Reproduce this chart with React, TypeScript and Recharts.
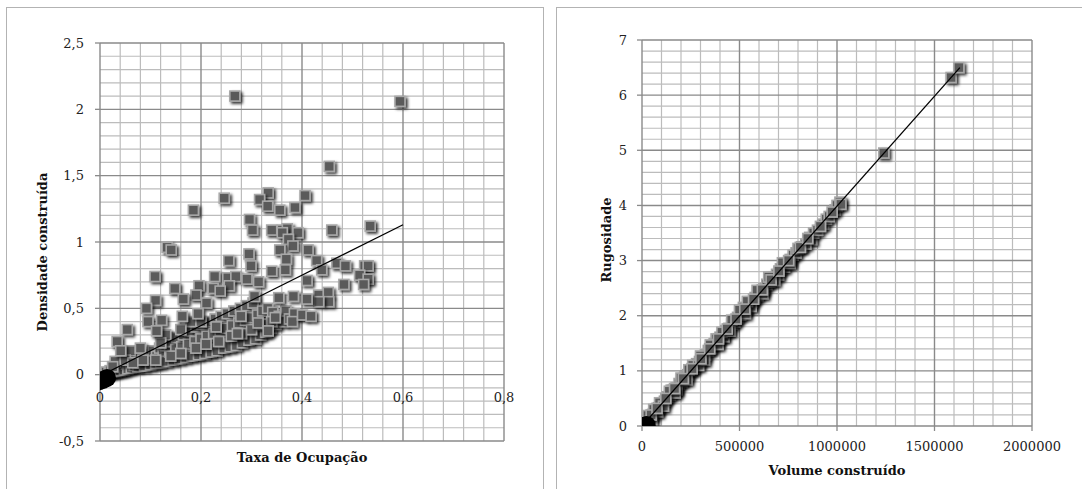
import React from "react";
import { ScatterChart, Scatter, XAxis, YAxis, ReferenceLine } from "recharts";

// left chart: Taxa de Ocupação x Densidade construída
const leftXTicks = [0, 0.2, 0.4, 0.6, 0.8];
const leftYTicks = [-0.5, 0, 0.5, 1, 1.5, 2, 2.5];

const taxaBand = [
  [0.005, 0.0], [0.01, 0.01], [0.012, 0.02], [0.018, 0.015], [0.02, 0.03], [0.025, 0.02],
  [0.03, 0.04], [0.032, 0.025], [0.038, 0.05], [0.04, 0.03], [0.045, 0.06], [0.048, 0.035],
  [0.052, 0.08], [0.055, 0.045], [0.06, 0.1], [0.062, 0.05], [0.068, 0.07], [0.07, 0.12],
  [0.075, 0.06], [0.08, 0.09], [0.082, 0.14], [0.088, 0.065], [0.09, 0.11], [0.095, 0.16],
  [0.1, 0.075], [0.1, 0.12], [0.105, 0.18], [0.11, 0.085], [0.112, 0.14], [0.118, 0.2],
  [0.12, 0.09], [0.125, 0.15], [0.13, 0.22], [0.132, 0.1], [0.138, 0.17], [0.14, 0.25],
  [0.145, 0.11], [0.15, 0.19], [0.152, 0.28], [0.158, 0.12], [0.162, 0.21], [0.165, 0.3],
  [0.17, 0.13], [0.175, 0.23], [0.178, 0.33], [0.182, 0.14], [0.188, 0.25], [0.19, 0.36],
  [0.195, 0.15], [0.2, 0.27], [0.202, 0.38], [0.208, 0.16], [0.212, 0.29], [0.215, 0.4],
  [0.22, 0.17], [0.225, 0.31], [0.228, 0.42], [0.232, 0.18], [0.238, 0.33], [0.24, 0.44],
  [0.245, 0.2], [0.25, 0.35], [0.252, 0.46], [0.258, 0.21], [0.262, 0.37], [0.265, 0.48],
  [0.27, 0.22], [0.275, 0.39], [0.278, 0.5], [0.282, 0.24], [0.288, 0.41], [0.29, 0.52],
  [0.295, 0.26], [0.3, 0.43], [0.303, 0.54], [0.308, 0.27], [0.312, 0.45], [0.318, 0.3],
  [0.322, 0.48], [0.328, 0.32], [0.332, 0.5], [0.338, 0.35], [0.342, 0.47], [0.348, 0.38],
  [0.355, 0.44], [0.362, 0.4], [0.368, 0.48], [0.375, 0.42], [0.385, 0.46],
  [0.03, 0.1], [0.06, 0.18], [0.08, 0.2], [0.13, 0.3], [0.18, 0.4],
  [0.025, 0.06], [0.05, 0.11], [0.065, 0.09], [0.085, 0.11], [0.11, 0.11], [0.14, 0.14],
  [0.16, 0.16], [0.19, 0.2], [0.21, 0.23], [0.235, 0.25], [0.26, 0.29], [0.28, 0.31],
  [0.3, 0.34], [0.32, 0.38], [0.34, 0.4], [0.12, 0.24], [0.16, 0.34], [0.2, 0.4], [0.23, 0.36],
];

const taxaOutliers = [
  [0.267, 2.1], [0.594, 2.06], [0.454, 1.57], [0.333, 1.37], [0.246, 1.33], [0.406, 1.35],
  [0.316, 1.32], [0.332, 1.27], [0.356, 1.24], [0.386, 1.26], [0.185, 1.24], [0.296, 1.17],
  [0.302, 1.09], [0.34, 1.09], [0.361, 1.09], [0.371, 1.1], [0.392, 1.07], [0.459, 1.09],
  [0.535, 1.12], [0.361, 1.07], [0.373, 1.02], [0.382, 0.97], [0.133, 0.96], [0.141, 0.94],
  [0.356, 0.94], [0.412, 0.94], [0.295, 0.91], [0.255, 0.86], [0.369, 0.87], [0.429, 0.86],
  [0.439, 0.79], [0.469, 0.84], [0.486, 0.82], [0.524, 0.82], [0.531, 0.82], [0.299, 0.82],
  [0.34, 0.78], [0.367, 0.79], [0.109, 0.74], [0.227, 0.74], [0.253, 0.73], [0.269, 0.74],
  [0.291, 0.72], [0.314, 0.7], [0.41, 0.71], [0.514, 0.75], [0.531, 0.72], [0.522, 0.68],
  [0.483, 0.68], [0.196, 0.67], [0.148, 0.65], [0.224, 0.65], [0.256, 0.67], [0.238, 0.63],
  [0.19, 0.6], [0.165, 0.57], [0.11, 0.56], [0.211, 0.54], [0.306, 0.59], [0.354, 0.58],
  [0.383, 0.59], [0.433, 0.6], [0.452, 0.62], [0.453, 0.55], [0.433, 0.55], [0.41, 0.57],
  [0.092, 0.5], [0.095, 0.4], [0.122, 0.41], [0.054, 0.34], [0.034, 0.25], [0.041, 0.18],
  [0.112, 0.33], [0.163, 0.44], [0.194, 0.46], [0.381, 0.4], [0.401, 0.45], [0.418, 0.44],
  [0.347, 0.43], [0.313, 0.39], [0.333, 0.33], [0.279, 0.44], [0.272, 0.31],
];

const taxaOrigin = [[-0.002, -0.05], [0.006, -0.04], [0.014, -0.025]];
const taxaTrend = [[0, -0.01], [0.6, 1.13]];

// right chart: Volume construído x Rugosidade
const rightXTicks = [0, 500000, 1000000, 1500000, 2000000];
const rightYTicks = [0, 1, 2, 3, 4, 5, 6, 7];

const volumeRugosidade = [
  [10000, 0.05], [25000, 0.1], [40000, 0.17], [55000, 0.21], [70000, 0.29], [85000, 0.33],
  [100000, 0.41], [115000, 0.45], [130000, 0.53], [145000, 0.57], [160000, 0.65], [175000, 0.69],
  [190000, 0.77], [205000, 0.81], [220000, 0.89], [235000, 0.93], [250000, 1.01], [265000, 1.05],
  [280000, 1.13], [295000, 1.17], [310000, 1.25], [325000, 1.29], [340000, 1.37], [355000, 1.41],
  [370000, 1.49], [385000, 1.53], [400000, 1.61], [415000, 1.65], [430000, 1.73], [445000, 1.77],
  [460000, 1.85], [475000, 1.89], [490000, 1.97], [505000, 2.01], [520000, 2.09], [535000, 2.13],
  [550000, 2.21], [565000, 2.25], [580000, 2.33], [595000, 2.37], [610000, 2.45], [625000, 2.49],
  [640000, 2.57], [655000, 2.61], [670000, 2.69], [690000, 2.75], [710000, 2.85], [730000, 2.88],
  [745000, 2.96], [760000, 3.02], [775000, 3.1], [790000, 3.14], [800000, 3.22], [860000, 3.42],
  [870000, 3.38], [880000, 3.5], [900000, 3.55], [930000, 3.66], [945000, 3.75], [960000, 3.8],
  [990000, 3.92], [1000000, 4.0], [1015000, 4.06], [1020000, 4.02], [1240000, 4.95],
  [1585000, 6.32], [1625000, 6.5],
  [60000, 0.3], [150000, 0.65], [260000, 1.1], [380000, 1.58], [520000, 2.15], [600000, 2.45],
  [80000, 0.26], [180000, 0.66], [290000, 1.1], [420000, 1.62], [560000, 2.17], [700000, 2.74],
  [30000, 0.19], [90000, 0.42], [140000, 0.63], [200000, 0.87], [240000, 1.02], [300000, 1.27],
  [350000, 1.47], [410000, 1.7], [460000, 1.92], [500000, 2.1], [540000, 2.26], [590000, 2.46],
  [650000, 2.7], [720000, 2.96], [50000, 0.12], [110000, 0.36], [170000, 0.6], [230000, 0.84],
  [320000, 1.2], [390000, 1.48], [450000, 1.72], [530000, 2.04], [620000, 2.4], [680000, 2.64],
  [760000, 2.95], [820000, 3.25], [840000, 3.3],
  [18000, 0.08], [47000, 0.2], [77000, 0.32], [122000, 0.5], [167000, 0.68], [212000, 0.86],
  [257000, 1.04], [302000, 1.22], [347000, 1.4], [392000, 1.58], [437000, 1.76], [482000, 1.94],
  [527000, 2.12], [572000, 2.3], [617000, 2.47], [662000, 2.65], [702000, 2.81], [752000, 3.0],
  [812000, 3.24], [850000, 3.4], [915000, 3.62], [975000, 3.88],
];

const volumeOrigin = [[3000, 0], [12000, 0], [24000, 0.02]];
const volumeTrend = [[0, 0], [1630000, 6.5]];

const toPts = (arr: number[][]) => arr.map(([x, y]) => ({ x, y }));

const steps = (from: number, to: number, step: number) => {
  const out: number[] = [];
  const n = Math.round((to - from) / step);
  for (let i = 0; i <= n; i++) out.push(+(from + i * step).toFixed(6));
  return out;
};

const FONT = "'DejaVu Serif', serif";
const MINOR = "#bcbcbc";
const MAJOR = "#8a8a8a";

const fmt = (v: number) => String(v).replace(".", ",");

const Square = (props: any) => {
  const { cx, cy } = props;
  if (cx == null || cy == null) return <g />;
  return (
    <rect
      x={cx - 5}
      y={cy - 5}
      width={10}
      height={10}
      fill="#5a5a5a"
      stroke="#a8a8a8"
      strokeWidth={1.6}
      filter="url(#mkShadow)"
    />
  );
};

const Blob = (props: any) => {
  const { cx, cy } = props;
  if (cx == null || cy == null) return <g />;
  return <circle cx={cx} cy={cy} r={9} fill="#000" />;
};

const NoDot = () => <g />;

const gridLines = (xs: number[], ys: number[], xMajor: number[], yMajor: number[]) => [
  ...xs.filter((v) => !xMajor.includes(v)).map((v) => (
    <ReferenceLine key={"mx" + v} x={v} stroke={MINOR} strokeWidth={1.2} />
  )),
  ...ys.filter((v) => !yMajor.includes(v)).map((v) => (
    <ReferenceLine key={"my" + v} y={v} stroke={MINOR} strokeWidth={1.2} />
  )),
  ...xMajor.map((v) => <ReferenceLine key={"Mx" + v} x={v} stroke={MAJOR} strokeWidth={1.4} />),
  ...yMajor.map((v) => <ReferenceLine key={"My" + v} y={v} stroke={MAJOR} strokeWidth={1.4} />),
];

// left plot box
const L_TOP = 43;
const L_BOTTOM = 441;
const L_ZERO = L_TOP + (2.5 / 3) * (L_BOTTOM - L_TOP);

const LeftXTick = (props: any) => {
  const { x, payload } = props;
  return (
    <text x={x} y={L_ZERO + 23} textAnchor="middle" dominantBaseline="central" fontFamily={FONT} fontSize={13} fill="#222">
      {fmt(payload.value)}
    </text>
  );
};

const titleStyle: React.CSSProperties = {
  position: "absolute",
  fontFamily: FONT,
  fontWeight: "bold",
  fontSize: 13,
  color: "#111",
  whiteSpace: "nowrap",
  transform: "translate(-50%, -50%)",
};

export default function App() {
  return (
    <div style={{ position: "absolute", left: 0, top: 0, width: 1082, height: 489, background: "#fff", overflow: "hidden" }}>
      <svg width={0} height={0} style={{ position: "absolute" }}>
        <defs>
          <filter id="mkShadow" x="-60%" y="-60%" width="240%" height="240%">
            <feDropShadow dx={2} dy={2} stdDeviation={1.6} floodColor="#000" floodOpacity={0.8} />
          </filter>
        </defs>
      </svg>

      <div style={{ position: "absolute", left: 6, top: 7, width: 536, height: 500, border: "1px solid #b3b3b3" }} />
      <div style={{ position: "absolute", left: 556, top: 7, width: 560, height: 500, border: "1px solid #b3b3b3" }} />

      <div style={{ position: "absolute", left: 0, top: 0 }}>
        <ScatterChart width={543} height={489} margin={{ top: L_TOP, right: 39, bottom: 0, left: 0 }}>
          <XAxis
            type="number"
            dataKey="x"
            domain={[0, 0.8]}
            ticks={leftXTicks}
            allowDataOverflow
            axisLine={false}
            tickLine={false}
            height={489 - L_BOTTOM}
            tick={<LeftXTick />}
          />
          <YAxis
            type="number"
            dataKey="y"
            domain={[-0.5, 2.5]}
            ticks={leftYTicks}
            allowDataOverflow
            width={100}
            axisLine={false}
            tickSize={5}
            tickMargin={11}
            tickLine={{ stroke: MAJOR, strokeWidth: 1.3 }}
            tickFormatter={fmt}
            tick={{ fontFamily: FONT, fontSize: 13, fill: "#222" }}
          />
          {gridLines(steps(0, 0.8, 0.04), steps(-0.5, 2.5, 0.1), leftXTicks, leftYTicks)}
          <Scatter data={toPts(taxaBand)} shape={<Square />} isAnimationActive={false} />
          <Scatter data={toPts(taxaOutliers)} shape={<Square />} isAnimationActive={false} />
          <Scatter data={toPts(taxaOrigin)} shape={<Blob />} isAnimationActive={false} />
          <Scatter
            data={toPts(taxaTrend)}
            line={{ stroke: "#000", strokeWidth: 1.3 }}
            shape={<NoDot />}
            isAnimationActive={false}
          />
        </ScatterChart>
      </div>

      <div style={{ position: "absolute", left: 556, top: 0 }}>
        <ScatterChart width={526} height={489} margin={{ top: 40, right: 50, bottom: 0, left: 0 }}>
          <XAxis
            type="number"
            dataKey="x"
            domain={[0, 2000000]}
            ticks={rightXTicks}
            allowDataOverflow
            height={63}
            axisLine={false}
            tickSize={5}
            tickMargin={11}
            tickLine={{ stroke: MAJOR, strokeWidth: 1.3 }}
            tick={{ fontFamily: FONT, fontSize: 13, fill: "#222" }}
          />
          <YAxis
            type="number"
            dataKey="y"
            domain={[0, 7]}
            ticks={rightYTicks}
            allowDataOverflow
            width={86}
            axisLine={false}
            tickSize={5}
            tickMargin={10}
            tickLine={{ stroke: MAJOR, strokeWidth: 1.3 }}
            tick={{ fontFamily: FONT, fontSize: 13, fill: "#222" }}
          />
          {gridLines(steps(0, 2000000, 100000), steps(0, 7, 0.2), rightXTicks, rightYTicks)}
          <Scatter data={toPts(volumeRugosidade)} shape={<Square />} isAnimationActive={false} />
          <Scatter data={toPts(volumeOrigin)} shape={<Blob />} isAnimationActive={false} />
          <Scatter
            data={toPts(volumeTrend)}
            line={{ stroke: "#000", strokeWidth: 1.3 }}
            shape={<NoDot />}
            isAnimationActive={false}
          />
        </ScatterChart>
      </div>

      <div style={{ ...titleStyle, left: 302, top: 457 }}>Taxa de Ocupação</div>
      <div style={{ ...titleStyle, left: 42, top: 252, transform: "translate(-50%, -50%) rotate(-90deg)" }}>
        Densidade construída
      </div>
      <div style={{ ...titleStyle, left: 837, top: 470 }}>Volume construído</div>
      <div style={{ ...titleStyle, left: 606, top: 240, transform: "translate(-50%, -50%) rotate(-90deg)" }}>
        Rugosidade
      </div>
    </div>
  );
}
